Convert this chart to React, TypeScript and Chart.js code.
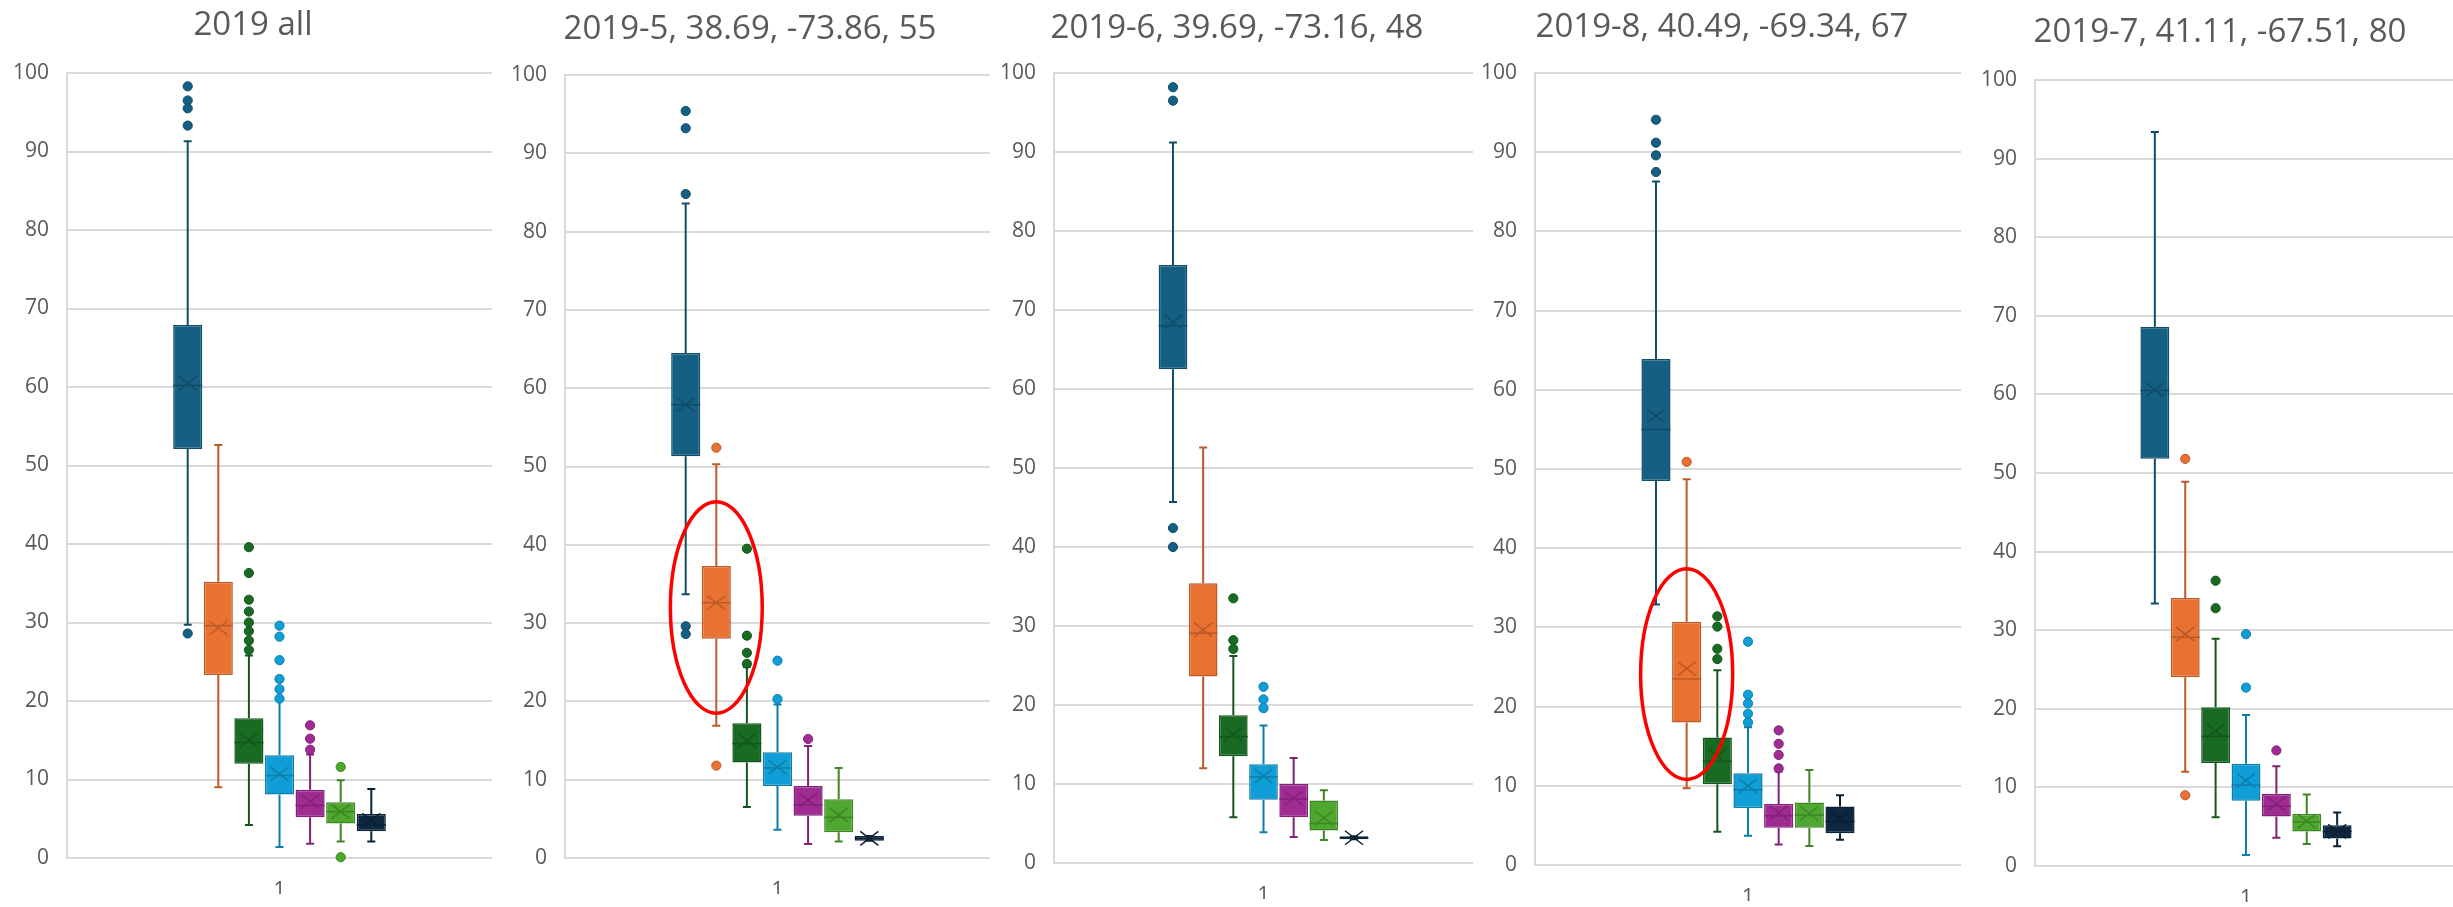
import React, { useEffect, useRef } from 'react';
import { Chart, registerables } from 'chart.js';

Chart.register(...registerables);

const FONT = "'Open Sans', 'Noto Sans', 'DejaVu Sans', sans-serif";
const TEXT_COLOR = '#595959';
const GRID_COLOR = '#d9d9d9';

// ---------- data ----------
const categories = ['1'];
const seriesNames = ['S1', 'S2', 'S3', 'S4', 'S5', 'S6', 'S7'];
const seriesColors = ['#156082', '#E97132', '#196B24', '#0F9ED5', '#A02B93', '#4EA72E', '#0E2841'];
const yMin = 0;
const yMax = 100;
const yStep = 10;

// Panel 1: 2019 all
const allTitle = '2019 all';
const allLow = [29.7, 9.0, 4.2, 1.4, 1.8, 2.1, 2.1];
const allQ1 = [52.1, 23.3, 12.0, 8.1, 5.2, 4.4, 3.4];
const allMed = [60.2, 29.6, 14.7, 10.5, 6.7, 5.9, 4.2];
const allQ3 = [67.9, 35.2, 17.8, 13.1, 8.7, 7.1, 5.6];
const allHigh = [91.3, 52.6, 25.8, 20.2, 13.2, 9.9, 8.8];
const allMean = [60.5, 29.3, 15.0, 10.7, 7.2, 5.9, 4.8];
const allOut = [
  [98.3, 96.5, 95.5, 93.3, 28.6],
  [],
  [39.6, 36.3, 32.9, 31.4, 30.0, 28.9, 27.7, 26.5],
  [29.6, 28.2, 25.2, 22.8, 21.5, 20.3],
  [16.9, 15.2, 13.8],
  [11.6, 0.1],
  [],
];

// Panel 2: 2019-5
const mayTitle = '2019-5, 38.69, -73.86, 55';
const mayLow = [33.7, 16.9, 6.5, 3.6, 1.8, 2.1, 2.2];
const mayQ1 = [51.3, 28.0, 12.2, 9.2, 5.4, 3.3, 2.2];
const mayMed = [57.9, 32.6, 14.6, 11.5, 6.8, 5.2, 2.5];
const mayQ3 = [64.5, 37.3, 17.2, 13.5, 9.2, 7.5, 2.8];
const mayHigh = [83.6, 50.3, 24.4, 19.6, 14.3, 11.5, 2.8];
const mayMean = [57.9, 32.6, 15.0, 11.6, 7.4, 5.5, 2.5];
const mayOut = [
  [95.4, 93.2, 84.8, 29.6, 28.6],
  [52.4, 11.8],
  [39.5, 28.4, 26.2, 24.8],
  [25.2, 20.3],
  [15.2],
  [],
  [],
];
const mayRing = [1, 32.0, 13.5]; // series index, centre value, radius in values

// Panel 3: 2019-6
const junTitle = '2019-6, 39.69, -73.16, 48';
const junLow = [45.7, 12.0, 5.8, 3.9, 3.3, 2.9, 3.0];
const junQ1 = [62.5, 23.6, 13.5, 8.0, 5.8, 4.1, 3.0];
const junMed = [68.0, 29.1, 16.0, 10.9, 8.1, 5.0, 3.2];
const junQ3 = [75.7, 35.4, 18.7, 12.5, 10.0, 7.9, 3.4];
const junHigh = [91.2, 52.6, 26.2, 17.4, 13.3, 9.2, 3.4];
const junMean = [68.5, 29.5, 16.3, 11.0, 8.2, 5.7, 3.2];
const junOut = [
  [98.2, 96.5, 42.4, 40.0],
  [],
  [33.5, 28.2, 27.1],
  [22.3, 20.7, 19.6],
  [],
  [],
  [],
];

// Panel 4: 2019-8
const augTitle = '2019-8, 40.49, -69.34, 67';
const augLow = [32.9, 9.7, 4.2, 3.7, 2.6, 2.4, 3.2];
const augQ1 = [48.5, 18.0, 10.2, 7.2, 4.7, 4.7, 4.0];
const augMed = [55.0, 23.5, 13.1, 9.5, 6.2, 6.3, 5.5];
const augQ3 = [63.9, 30.7, 16.1, 11.6, 7.7, 7.9, 7.4];
const augHigh = [86.3, 48.7, 24.6, 17.4, 11.8, 12.0, 8.8];
const augMean = [56.7, 24.8, 13.8, 10.0, 6.6, 6.5, 5.8];
const augOut = [
  [94.1, 91.2, 89.6, 87.5],
  [50.9],
  [31.4, 30.1, 27.3, 26.0],
  [28.2, 21.5, 20.4, 19.1, 18.0],
  [17.0, 15.3, 13.9, 12.2],
  [],
  [],
];
const augRing = [1, 24.1, 13.3];

// Panel 5: 2019-7
const julTitle = '2019-7, 41.11, -67.51, 80';
const julLow = [33.4, 12.0, 6.2, 1.4, 3.6, 2.8, 2.5];
const julQ1 = [51.8, 24.0, 13.1, 8.3, 6.3, 4.4, 3.5];
const julMed = [60.5, 29.1, 16.5, 10.3, 7.6, 5.6, 4.4];
const julQ3 = [68.6, 34.1, 20.2, 13.0, 9.2, 6.6, 5.2];
const julHigh = [93.4, 48.9, 28.9, 19.2, 12.7, 9.1, 6.8];
const julMean = [60.6, 29.5, 17.2, 10.9, 7.9, 5.7, 4.4];
const julOut = [
  [],
  [51.8, 9.0],
  [36.3, 32.8],
  [29.5, 22.7],
  [14.7],
  [],
  [],
];

// ---------- layout (positions only) ----------
type Layout = { left: number; width: number; axisW: number; titleMid: number; plotTop: number; plotBottom: number };
const layouts: Layout[] = [
  { left: 14, width: 478, axisW: 53, titleMid: 25.4, plotTop: 73, plotBottom: 858 },
  { left: 510, width: 480, axisW: 55, titleMid: 29.4, plotTop: 75, plotBottom: 858 },
  { left: 1001, width: 472, axisW: 53, titleMid: 28.4, plotTop: 73, plotBottom: 863 },
  { left: 1483, width: 478, axisW: 52, titleMid: 27.4, plotTop: 73, plotBottom: 865 },
  { left: 1983, width: 474, axisW: 52, titleMid: 32.4, plotTop: 80, plotBottom: 866 },
];
const CANVAS_H = 907;
const X_AXIS_H = 36;
const TITLE_SIZE = 33;
const TICK_SIZE = 21;

type PanelData = {
  title: string;
  low: number[];
  q1: number[];
  med: number[];
  q3: number[];
  high: number[];
  mean: number[];
  out: number[][];
  ring?: number[];
};

const panels: PanelData[] = [
  { title: allTitle, low: allLow, q1: allQ1, med: allMed, q3: allQ3, high: allHigh, mean: allMean, out: allOut },
  { title: mayTitle, low: mayLow, q1: mayQ1, med: mayMed, q3: mayQ3, high: mayHigh, mean: mayMean, out: mayOut, ring: mayRing },
  { title: junTitle, low: junLow, q1: junQ1, med: junMed, q3: junQ3, high: junHigh, mean: junMean, out: junOut },
  { title: augTitle, low: augLow, q1: augQ1, med: augMed, q3: augQ3, high: augHigh, mean: augMean, out: augOut, ring: augRing },
  { title: julTitle, low: julLow, q1: julQ1, med: julMed, q3: julQ3, high: julHigh, mean: julMean, out: julOut },
];

function shade(hex: string, amt: number): string {
  const n = parseInt(hex.slice(1), 16);
  const r = Math.round(((n >> 16) & 255) * (1 - amt));
  const g = Math.round(((n >> 8) & 255) * (1 - amt));
  const b = Math.round((n & 255) * (1 - amt));
  return `rgb(${r},${g},${b})`;
}

function makeBoxPlugin(p: PanelData) {
  return {
    id: 'boxExtras',
    afterDatasetsDraw(chart: any) {
      const ctx: CanvasRenderingContext2D = chart.ctx;
      const ys = chart.scales.y;
      const py = (v: number) => ys.getPixelForValue(v);
      chart.data.datasets.forEach((_ds: any, i: number) => {
        const meta = chart.getDatasetMeta(i);
        const bar = meta.data[0];
        if (!bar) return;
        const { x, width } = bar.getProps(['x', 'width'], true);
        const base = seriesColors[i];
        const dark = shade(base, 0.2);
        ctx.save();
        ctx.strokeStyle = dark;
        ctx.lineWidth = 2;
        // whiskers
        const cap = 4;
        ctx.beginPath();
        ctx.moveTo(x, py(p.q3[i]));
        ctx.lineTo(x, py(p.high[i]));
        ctx.moveTo(x - cap, py(p.high[i]));
        ctx.lineTo(x + cap, py(p.high[i]));
        ctx.moveTo(x, py(p.q1[i]));
        ctx.lineTo(x, py(p.low[i]));
        ctx.moveTo(x - cap, py(p.low[i]));
        ctx.lineTo(x + cap, py(p.low[i]));
        ctx.stroke();
        // median
        ctx.lineWidth = 1.5;
        ctx.beginPath();
        ctx.moveTo(x - width / 2, py(p.med[i]));
        ctx.lineTo(x + width / 2, py(p.med[i]));
        ctx.stroke();
        // mean X
        const my = py(p.mean[i]);
        const hw = 9;
        const hh = 7;
        ctx.beginPath();
        ctx.moveTo(x - hw, my - hh);
        ctx.lineTo(x + hw, my + hh);
        ctx.moveTo(x - hw, my + hh);
        ctx.lineTo(x + hw, my - hh);
        ctx.stroke();
        // outliers
        ctx.fillStyle = base;
        ctx.lineWidth = 1;
        p.out[i].forEach((v) => {
          ctx.beginPath();
          ctx.arc(x, py(v), 4.6, 0, Math.PI * 2);
          ctx.fill();
          ctx.stroke();
        });
        ctx.restore();
      });
      if (p.ring) {
        const [idx, c, r] = p.ring;
        const bar = chart.getDatasetMeta(idx).data[0];
        if (bar) {
          const { x, width } = bar.getProps(['x', 'width'], true);
          const yc = py(c);
          const ry = Math.abs(py(c + r) - yc);
          ctx.save();
          ctx.strokeStyle = '#FF0000';
          ctx.lineWidth = 3.5;
          ctx.beginPath();
          ctx.ellipse(x, yc, width * 1.58, ry, 0, 0, Math.PI * 2);
          ctx.stroke();
          ctx.restore();
        }
      }
    },
  };
}

function BoxPanel({ data, layout }: { data: PanelData; layout: Layout }) {
  const ref = useRef<HTMLCanvasElement | null>(null);
  useEffect(() => {
    if (!ref.current) return;
    const lineH = TITLE_SIZE * 1.2;
    const padTop = layout.titleMid - lineH / 2;
    const padBottom = layout.plotTop - padTop - lineH;
    const chart = new Chart(ref.current, {
      type: 'bar',
      data: {
        labels: categories,
        datasets: seriesNames.map((name, i) => ({
          label: name,
          data: [[data.q1[i], data.q3[i]]] as any,
          backgroundColor: seriesColors[i],
          borderColor: shade(seriesColors[i], 0.2),
          borderWidth: 1.5,
          borderSkipped: false as any,
          barPercentage: 0.95,
          categoryPercentage: 0.504,
        })),
      },
      options: {
        animation: false,
        responsive: false,
        events: [],
        layout: { padding: { left: 0, right: 0, top: 0, bottom: CANVAS_H - layout.plotBottom - X_AXIS_H } },
        plugins: {
          legend: { display: false },
          tooltip: { enabled: false },
          title: {
            display: true,
            text: data.title,
            color: TEXT_COLOR,
            font: { family: FONT, size: TITLE_SIZE, weight: 'normal', lineHeight: 1.2 },
            padding: { top: padTop, bottom: padBottom },
          },
        },
        scales: {
          x: {
            type: 'category',
            grid: { display: false, drawTicks: false },
            border: { display: false },
            ticks: { padding: 20, color: TEXT_COLOR, font: { family: FONT, size: TICK_SIZE } },
            afterFit: (s: any) => {
              s.height = X_AXIS_H;
            },
          },
          y: {
            min: yMin,
            max: yMax,
            grid: { color: GRID_COLOR, lineWidth: 2, drawTicks: false },
            border: { display: true, color: GRID_COLOR, width: 2 },
            ticks: { stepSize: yStep, padding: 18, color: TEXT_COLOR, font: { family: FONT, size: TICK_SIZE } },
            afterFit: (s: any) => {
              s.width = layout.axisW;
            },
          },
        },
      },
      plugins: [makeBoxPlugin(data)],
    } as any);
    return () => chart.destroy();
  }, [data, layout]);
  return (
    <canvas
      ref={ref}
      width={layout.width}
      height={CANVAS_H}
      style={{ position: 'absolute', left: layout.left, top: 0, width: layout.width, height: CANVAS_H }}
    />
  );
}

export default function App() {
  return (
    <div
      style={{
        position: 'fixed',
        left: 0,
        top: 0,
        width: 2453,
        height: 907,
        overflow: 'hidden',
        background: '#ffffff',
      }}
    >
      {panels.map((p, i) => (
        <BoxPanel key={i} data={p} layout={layouts[i]} />
      ))}
    </div>
  );
}
